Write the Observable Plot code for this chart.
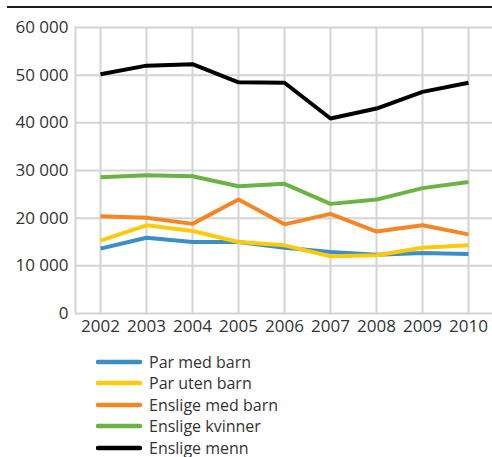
<!DOCTYPE html>
<html>
<head>
<meta charset="utf-8">
<script src="https://cdn.jsdelivr.net/npm/d3@7"></script>
<script src="https://cdn.jsdelivr.net/npm/@observablehq/plot@0.6"></script>
<style>
  body { margin: 0; background: #fff; font-family: "Open Sans", sans-serif; }
  #wrap { position: relative; width: 492px; height: 457px; overflow: hidden; }
  #rule { position: absolute; top: 6px; left: 7px; right: 0; height: 2px; background: #1a1a1a; }
  #chart { position: absolute; top: 0; left: 0; }
  #legend { position: absolute; top: 351px; left: 96px; }
  .row { display: flex; align-items: center; height: 21.5px; font-size: 16px; color: #333; }
  .row svg { margin-right: 7px; }
</style>
</head>
<body>
<div id="wrap">
  <div id="chart"></div>
  <div id="rule"></div>
  <div id="legend"></div>
</div>
<script>
const years = [2002, 2003, 2004, 2005, 2006, 2007, 2008, 2009, 2010];
const seriesNames = ["Par med barn", "Par uten barn", "Enslige med barn", "Enslige kvinner", "Enslige menn"];
const seriesColors = ["#3a8fc6", "#ffc90e", "#f58625", "#6bb344", "#000000"];
const parMedBarn     = [13600, 15900, 15000, 15000, 13800, 12900, 12300, 12700, 12500];
const parUtenBarn    = [15300, 18500, 17300, 15000, 14300, 12000, 12200, 13800, 14300];
const ensligeMedBarn = [20400, 20100, 18800, 23900, 18700, 20900, 17200, 18500, 16600];
const ensligeKvinner = [28600, 29000, 28800, 26700, 27200, 23000, 23900, 26300, 27600];
const ensligeMenn    = [50200, 52000, 52300, 48500, 48400, 40900, 43000, 46500, 48400];
const yTicks = [0, 10000, 20000, 30000, 40000, 50000, 60000];

const allValues = [parMedBarn, parUtenBarn, ensligeMedBarn, ensligeKvinner, ensligeMenn];
const data = [];
seriesNames.forEach((name, i) => {
  years.forEach((y, j) => data.push({series: name, year: y, value: allValues[i][j]}));
});

const fmt = d3.formatLocale({decimal: ",", thousands: " ", grouping: [3], currency: ["", ""]}).format(",");

const chart = Plot.plot({
  width: 492,
  height: 345,
  marginTop: 27,
  marginLeft: 75,
  marginRight: 0,
  marginBottom: 32,
  style: {fontFamily: "Open Sans, sans-serif", fontSize: "17px", color: "#333", background: "transparent"},
  x: {type: "point", domain: years, padding: 0.5, label: null},
  y: {domain: [0, 60000], label: null},
  color: {domain: seriesNames, range: seriesColors},
  marks: [
    Plot.gridY(yTicks, {stroke: "#d4d4d4", strokeOpacity: 1, strokeWidth: 2}),
    Plot.gridX(years, {stroke: "#d4d4d4", strokeOpacity: 1, strokeWidth: 2}),
    Plot.frame({anchor: "left", stroke: "#d4d4d4", strokeWidth: 2}),
    Plot.axisY(yTicks, {tickSize: 0, tickPadding: 7, tickFormat: fmt, label: null, fill: "#333"}),
    Plot.axisX(years, {tickSize: 0, tickPadding: 6, tickFormat: d => String(d), label: null, fill: "#333"}),
    Plot.lineY(data, {x: "year", y: "value", z: "series", stroke: "series", strokeWidth: 4, strokeLinecap: "butt", strokeLinejoin: "miter"})
  ]
});
document.getElementById("chart").appendChild(chart);

const legend = document.getElementById("legend");
seriesNames.forEach((name, i) => {
  const row = document.createElement("div");
  row.className = "row";
  row.innerHTML = `<svg width="46" height="8"><line x1="2" y1="4" x2="44" y2="4" stroke="${seriesColors[i]}" stroke-width="4.5" stroke-linecap="round"/></svg><span>${name}</span>`;
  legend.appendChild(row);
});
</script>
</body>
</html>
